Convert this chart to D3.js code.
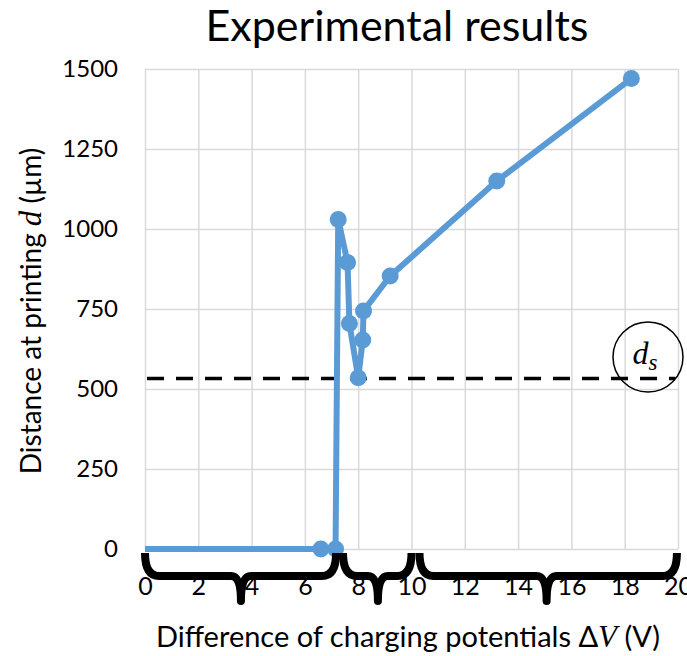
<!DOCTYPE html>
<html>
<head>
<meta charset="utf-8">
<script src="https://cdn.jsdelivr.net/npm/d3@7"></script>
<style>
  html, body { margin: 0; padding: 0; background: #fff; }
  svg { display: block; }
</style>
</head>
<body>
<svg id="chart" width="687" height="656"></svg>
<script>
// ---- data ----
const xValues = [0, 6.6, 7.15, 7.25, 7.6, 7.67, 8.0, 8.17, 8.2, 9.2, 13.2, 18.25];
const yValues = [0, 0, 0, 1030, 895, 705, 535, 653, 744, 853, 1150, 1470];
const xTicks = [0, 2, 4, 6, 8, 10, 12, 14, 16, 18, 20];
const yTicks = [0, 250, 500, 750, 1000, 1250, 1500];
const dsValue = 533;
// braces: start, middle, end in ΔV units
const braceStarts = [0, 7.43, 10.3];
const braceMids = [3.6, 8.74, 15.07];
const braceEnds = [7.17, 10.0, 19.96];

(function () {
const svg = d3.select("#chart");
const pLeft = 145, pRight = 678, pTop = 69, pBottom = 549;
const x = d3.scaleLinear().domain([0, 20]).range([pLeft, pRight]);
const y = d3.scaleLinear().domain([0, 1500]).range([pBottom, pTop]);

const font = "Lato, 'Open Sans', sans-serif";
const grid = "#d9d9d9";

// gridlines
svg.append("g").attr("transform", `translate(0,${pBottom})`)
  .call(d3.axisBottom(x).tickValues(xTicks).tickSize(-(pBottom - pTop)).tickFormat(""))
  .call(g => g.select(".domain").remove())
  .call(g => g.selectAll("line").attr("stroke", grid).attr("stroke-width", 1.5));
svg.append("g").attr("transform", `translate(${pLeft},0)`)
  .call(d3.axisLeft(y).tickValues(yTicks).tickSize(-(pRight - pLeft)).tickFormat(""))
  .call(g => g.select(".domain").remove())
  .call(g => g.selectAll("line").attr("stroke", grid).attr("stroke-width", 1.5));

// tick labels
svg.append("g").attr("transform", `translate(${pLeft - 6},0)`)
  .call(d3.axisLeft(y).tickValues(yTicks).tickSize(0).tickPadding(21).tickFormat(d3.format("d")))
  .call(g => g.select(".domain").remove())
  .call(g => g.selectAll("text").attr("font-family", font).attr("font-size", 24).attr("fill", "#000"));
svg.append("g").attr("transform", `translate(0,${pBottom})`)
  .call(d3.axisBottom(x).tickValues(xTicks).tickSize(0).tickPadding(28).tickFormat(d3.format("d")))
  .call(g => g.select(".domain").remove())
  .call(g => g.selectAll("text").attr("font-family", font).attr("font-size", 25).attr("fill", "#000"));

// ds dashed line
svg.append("line")
  .attr("x1", x(0) + 2).attr("x2", x(19.9))
  .attr("y1", y(dsValue)).attr("y2", y(dsValue))
  .attr("stroke", "#000").attr("stroke-width", 3.5)
  .attr("stroke-dasharray", "17,12");

// series line
const pts = xValues.map((v, i) => [v, yValues[i]]);
svg.append("path")
  .datum(pts)
  .attr("d", d3.line().x(d => x(d[0])).y(d => y(d[1])))
  .attr("fill", "none").attr("stroke", "#5b9bd5").attr("stroke-width", 6)
  .attr("stroke-linejoin", "round");
svg.append("g").selectAll("circle")
  .data(pts.slice(1))
  .join("circle")
  .attr("cx", d => x(d[0])).attr("cy", d => y(d[1])).attr("r", 8.5)
  .attr("fill", "#5b9bd5");

// braces
const bTop = 553, bMid = 576, bTip = 601;
braceStarts.forEach((s, i) => {
  const x0 = x(s), xm = x(braceMids[i]), x1 = x(braceEnds[i]);
  const p = `M${x0},${bTop} Q${x0},${bMid} ${x0 + 14},${bMid} L${xm - 10},${bMid} Q${xm},${bMid} ${xm},${bTip} Q${xm},${bMid} ${xm + 10},${bMid} L${x1 - 14},${bMid} Q${x1},${bMid} ${x1},${bTop}`;
  svg.append("path").attr("d", p).attr("fill", "none").attr("stroke", "#000")
    .attr("stroke-width", 8).attr("stroke-linejoin", "round");
});

// title
svg.append("text").attr("x", 397).attr("y", 41).attr("text-anchor", "middle")
  .attr("font-family", font).attr("font-size", 43).attr("fill", "#000")
  .text("Experimental results");

// x axis title
const xt = svg.append("text").attr("x", 408).attr("y", 647).attr("text-anchor", "middle")
  .attr("font-family", font).attr("font-size", 29).attr("fill", "#000");
xt.append("tspan").text("Difference of charging potentials Δ");
xt.append("tspan").attr("font-family", "'Liberation Serif', serif").attr("font-style", "italic").attr("font-size", 31).text("V");
xt.append("tspan").text(" (V)");

// y axis title
const yt = svg.append("text").attr("transform", "translate(41,311) rotate(-90)").attr("text-anchor", "middle")
  .attr("font-family", font).attr("font-size", 28).attr("fill", "#000");
yt.append("tspan").text("Distance at printing ");
yt.append("tspan").attr("font-family", "'Liberation Serif', serif").attr("font-style", "italic").attr("font-size", 31).text("d");
yt.append("tspan").text(" (µm)");

// ds label circle
svg.append("circle").attr("cx", 648).attr("cy", 357).attr("r", 35)
  .attr("fill", "none").attr("stroke", "#000").attr("stroke-width", 1.5);
const ds = svg.append("text").attr("x", 645).attr("y", 364).attr("text-anchor", "middle")
  .attr("font-family", "'Liberation Serif', serif").attr("font-style", "italic").attr("font-size", 32).attr("fill", "#000");
ds.append("tspan").text("d");
ds.append("tspan").attr("font-size", 23).attr("dy", 6).text("s");
})();
</script>
</body>
</html>
